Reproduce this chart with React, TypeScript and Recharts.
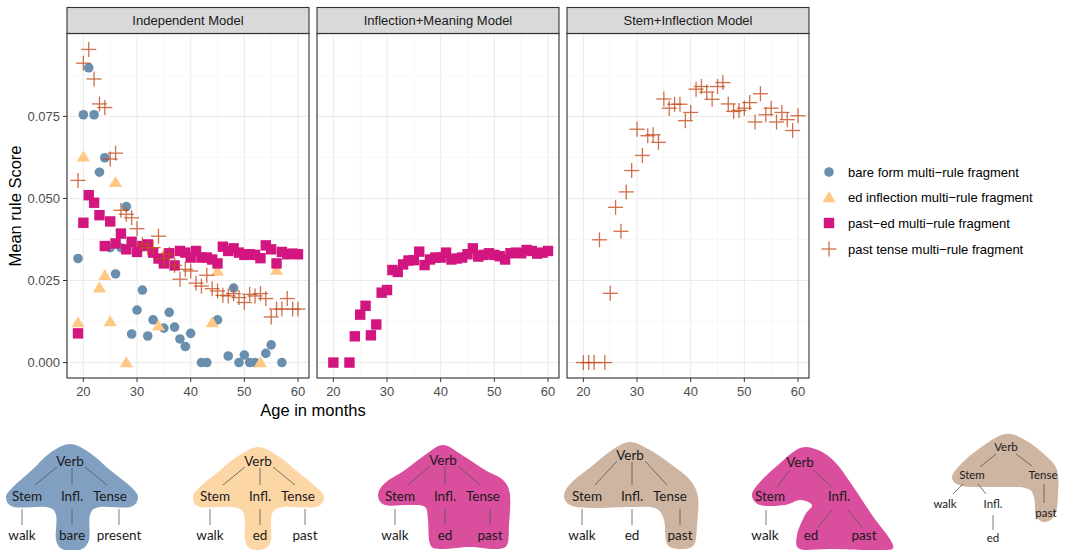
import React from "react"
import { ScatterChart, Scatter, XAxis, YAxis, CartesianGrid } from "recharts"

const FONT = '"Liberation Sans", Arial, Helvetica, sans-serif'
const TREE_FONT = 'Lato, "Open Sans", sans-serif'

const panelTitles = ["Independent Model", "Inflection+Meaning Model", "Stem+Inflection Model"]
const seriesNames = [
  "bare form multi\u2212rule fragment",
  "ed inflection multi\u2212rule fragment",
  "past\u2212ed multi\u2212rule fragment",
  "past tense multi\u2212rule fragment",
]
const ageTicks = [20, 30, 40, 50, 60]
const ageMinor = [25, 35, 45, 55]
const scoreTicks = [0, 0.025, 0.05, 0.075]
const scoreMinor = [0.0125, 0.0375, 0.0625, 0.0875]

// [age in months, mean rule score]
const indepBare = [
  [19, 0.0317], [20, 0.0755], [21, 0.0898], [22, 0.0755], [23, 0.058], [24, 0.0624],
  [25, 0.035], [26, 0.027], [27, 0.035], [28, 0.0475], [29, 0.0087], [30, 0.016],
  [31, 0.0221], [32, 0.0081], [33, 0.013], [35, 0.0105], [36, 0.0153], [37, 0.0108],
  [38, 0.0072], [39, 0.0049], [40, 0.0089], [42, 0], [43, 0], [45, 0.013], [47, 0.002],
  [48, 0.0227], [49, 0], [50, 0.0023], [51, 0], [52, 0], [54, 0.0028], [55, 0.0054], [57, 0],
]
const indepEd = [
  [19, 0.0122], [20, 0.0627], [23, 0.0228], [24, 0.0266], [25, 0.0125], [26, 0.0549],
  [28, 0], [34, 0.0112], [35, 0.033], [44, 0.0122], [45, 0.0279], [53, 0], [56, 0.0282],
]
const indepPastEd = [
  [19, 0.0089], [20, 0.0426], [21, 0.051], [22, 0.0487], [23, 0.0449], [24, 0.0355],
  [25, 0.043], [26, 0.0363], [27, 0.0393], [28, 0.0345], [29, 0.0368], [30, 0.0337],
  [31, 0.0355], [32, 0.036], [33, 0.0335], [34, 0.0317], [35, 0.0302], [36, 0.0333],
  [37, 0.0296], [38, 0.034], [39, 0.0335], [40, 0.032], [41, 0.034], [42, 0.032],
  [43, 0.032], [44, 0.0314], [45, 0.0302], [46, 0.0353], [47, 0.034], [48, 0.0348],
  [49, 0.0335], [50, 0.0328], [51, 0.033], [52, 0.0328], [53, 0.0318], [54, 0.0357],
  [55, 0.0345], [56, 0.0302], [57, 0.0337], [58, 0.033], [59, 0.0332], [60, 0.033],
]
const indepPastTense = [
  [19, 0.0555], [20, 0.0912], [21, 0.0954], [22, 0.0864], [23, 0.0788], [24, 0.0777],
  [25, 0.062], [26, 0.0638], [27, 0.0464], [28, 0.0452], [29, 0.0441], [30, 0.0408],
  [31, 0.036], [32, 0.035], [33, 0.035], [34, 0.0385], [35, 0.0317], [36, 0.033],
  [37, 0.0296], [38, 0.0254], [39, 0.0284], [40, 0.0279], [41, 0.0242], [42, 0.0233],
  [43, 0.0266], [44, 0.0225], [45, 0.0218], [46, 0.0205], [47, 0.0203], [48, 0.021],
  [49, 0.0198], [50, 0.0183], [51, 0.0208], [52, 0.0203], [53, 0.021], [54, 0.0195],
  [55, 0.0139], [56, 0.0163], [57, 0.0163], [58, 0.0195], [59, 0.0163], [60, 0.0163],
]
const inflMeaningPastEd = [
  [20, 0], [23, 0], [24, 0.008], [25, 0.0146], [26, 0.0173], [27, 0.0083], [28, 0.0116],
  [29, 0.0213], [30, 0.0221], [31, 0.0282], [32, 0.0276], [33, 0.0299], [34, 0.0311],
  [35, 0.0312], [36, 0.0338], [37, 0.0297], [38, 0.0314], [39, 0.032], [40, 0.032],
  [41, 0.0335], [42, 0.0314], [43, 0.0317], [44, 0.032], [45, 0.033], [46, 0.0348],
  [47, 0.0323], [48, 0.0328], [49, 0.0333], [50, 0.0328], [51, 0.0324], [52, 0.0314],
  [53, 0.0333], [54, 0.0335], [55, 0.0333], [56, 0.0343], [57, 0.034], [58, 0.0332],
  [59, 0.0335], [60, 0.034],
]
const stemInflPastTense = [
  [20, 0], [21, 0], [22, 0], [23, 0.0374], [24, 0], [25, 0.0211], [26, 0.0473], [27, 0.04],
  [28, 0.052], [29, 0.0585], [30, 0.0711], [31, 0.0631], [32, 0.0691], [33, 0.0694],
  [34, 0.0671], [35, 0.0803], [36, 0.0775], [37, 0.0787], [38, 0.0787], [39, 0.0737],
  [40, 0.0762], [41, 0.0833], [42, 0.0841], [43, 0.0824], [44, 0.0802], [45, 0.0841],
  [46, 0.0853], [47, 0.0788], [48, 0.0765], [49, 0.0768], [50, 0.0775], [51, 0.0792],
  [52, 0.0733], [53, 0.0819], [54, 0.0755], [55, 0.0775], [56, 0.0733], [57, 0.0762],
  [58, 0.074], [59, 0.0707], [60, 0.0752],
]

const toPoints = (rows: number[][]) => rows.map(([age, score]) => ({ age, score }))

const Dot = ({ cx, cy }: any) => <circle cx={cx} cy={cy} r={4.8} fill="#6A8FAE" />
const Tri = ({ cx, cy }: any) => (
  <polygon points={`${cx},${cy - 6.3} ${cx + 6.6},${cy + 4.7} ${cx - 6.6},${cy + 4.7}`} fill="#FFC985" />
)
const Sq = ({ cx, cy }: any) => <rect x={cx - 5.2} y={cy - 5.2} width={10.4} height={10.4} fill="#D2157F" />
const Plus = ({ cx, cy }: any) => (
  <g stroke="#C44D1E" strokeWidth={1.3} opacity={0.8}>
    <line x1={cx - 7.5} x2={cx + 7.5} y1={cy} y2={cy} />
    <line x1={cx} x2={cx} y1={cy - 7.5} y2={cy + 7.5} />
  </g>
)
const shapes = [Dot, Tri, Sq, Plus]

const panels = [
  { title: panelTitles[0], left: 67, series: [[0, indepBare], [1, indepEd], [2, indepPastEd], [3, indepPastTense]] },
  { title: panelTitles[1], left: 317, series: [[2, inflMeaningPastEd]] },
  { title: panelTitles[2], left: 567, series: [[3, stemInflPastTense]] },
]

const PW = 242
const PTOP = 34
const PH = 344

function Panel({ left, series, showY }: any) {
  const yw = showY ? 67 : 0
  const tick = { fill: "#4D4D4D", fontSize: 13, fontFamily: FONT }
  return (
    <div style={{ position: "absolute", left: left - yw, top: 0 }}>
      <ScatterChart width={yw + PW} height={PTOP + PH + 30} margin={{ top: PTOP, right: 0, bottom: 0, left: 0 }}>
        <CartesianGrid stroke="#F2F2F2" strokeWidth={0.6} verticalValues={ageMinor} horizontalValues={scoreMinor} />
        <CartesianGrid stroke="#EBEBEB" strokeWidth={1.1} />
        <XAxis
          type="number"
          dataKey="age"
          domain={[16.95, 62.05]}
          ticks={ageTicks}
          interval={0}
          axisLine={false}
          tickSize={4}
          tickMargin={5}
          tickLine={{ stroke: "#333333" }}
          tick={tick}
          height={30}
        />
        <YAxis
          type="number"
          dataKey="score"
          domain={[-0.0047, 0.1001]}
          ticks={scoreTicks}
          interval={0}
          hide={!showY}
          width={yw}
          axisLine={false}
          tickSize={4}
          tickMargin={3}
          tickLine={{ stroke: "#333333" }}
          tick={tick}
          tickFormatter={(v: number) => v.toFixed(3)}
        />
        {series.map(([k, rows]: any) => (
          <Scatter
            key={k}
            name={seriesNames[k]}
            data={toPoints(rows)}
            shape={shapes[k]}
            isAnimationActive={false}
          />
        ))}
      </ScatterChart>
    </div>
  )
}

// closed smooth outline through the given points (decoration only)
function blob(pts: number[][]) {
  const n = pts.length
  let d = `M${pts[0][0]},${pts[0][1]}`
  for (let i = 0; i < n; i++) {
    const p0 = pts[(i - 1 + n) % n]
    const p1 = pts[i]
    const p2 = pts[(i + 1) % n]
    const p3 = pts[(i + 2) % n]
    const c1x = p1[0] + (p2[0] - p0[0]) / 6
    const c1y = p1[1] + (p2[1] - p0[1]) / 6
    const c2x = p2[0] - (p3[0] - p1[0]) / 6
    const c2y = p2[1] - (p3[1] - p1[1]) / 6
    d += ` C${c1x},${c1y} ${c2x},${c2y} ${p2[0]},${p2[1]}`
  }
  return d + " Z"
}

function StdTree({ cx, verbY, mid, right, rightX, fill, outline }: any) {
  const rowY = 500.5
  const wordY = 540
  const ln = { stroke: "#555", strokeWidth: 0.8 }
  return (
    <g>
      <path d={blob(outline)} fill={fill} />
      <line x1={cx - 13} y1={verbY + 1} x2={cx - 35} y2={485} {...ln} />
      <line x1={cx + 2} y1={verbY + 2} x2={cx + 2} y2={485} {...ln} />
      <line x1={cx + 15} y1={verbY + 1} x2={cx + 37} y2={485} {...ln} />
      <line x1={cx - 48} y1={509} x2={cx - 48} y2={525} {...ln} />
      <line x1={cx + 2} y1={509} x2={cx + 2} y2={525} {...ln} />
      <line x1={rightX} y1={509} x2={rightX} y2={525} {...ln} />
      <g fontFamily={TREE_FONT} fontSize={13.5} fill="#1A1A1A" textAnchor="middle">
        <text x={cx} y={verbY}>Verb</text>
        <text x={cx - 43} y={rowY}>Stem</text>
        <text x={cx + 2} y={rowY}>Infl.</text>
        <text x={cx + 40} y={rowY}>Tense</text>
        <text x={cx - 48} y={wordY}>walk</text>
        <text x={cx + 2} y={wordY}>{mid}</text>
        <text x={rightX} y={wordY}>{right}</text>
      </g>
    </g>
  )
}

function Trees() {
  const ln = { stroke: "#555", strokeWidth: 0.8 }
  return (
    <g>
      <StdTree
        cx={70} verbY={466} mid="bare" right="present" rightX={119} fill="#819FC0"
        outline={[[70, 444], [90, 453], [110, 470], [130, 486], [138, 497], [130, 507], [100, 507], [90, 515], [89, 540], [80, 550], [64, 550], [56, 540], [56, 515], [46, 507], [14, 507], [6, 497], [14, 486], [32, 470], [50, 453]]}
      />
      <StdTree
        cx={258} verbY={466} mid="ed" right="past" rightX={305} fill="#FDD6A6"
        outline={[[258, 447], [278, 456], [298, 472], [316, 487], [324, 497], [316, 507], [284, 507], [272, 514], [271, 540], [264, 549], [251, 549], [245, 540], [244, 514], [232, 507], [200, 507], [193, 497], [200, 487], [218, 472], [238, 456]]}
      />
      <StdTree
        cx={443} verbY={465} mid="ed" right="past" rightX={490} fill="#DA4E9E"
        outline={[[443, 445], [462, 455], [485, 470], [503, 480], [510, 495], [509, 525], [507, 545], [495, 549], [470, 547], [440, 549], [430, 544], [428, 520], [425, 507], [410, 505], [385, 505], [378, 495], [385, 483], [405, 470], [425, 455]]}
      />
      <StdTree
        cx={630} verbY={460} mid="ed" right="past" rightX={680} fill="#CEB5A2"
        outline={[[630, 442], [650, 450], [672, 465], [690, 480], [698, 497], [697, 525], [694, 545], [680, 549], [667, 544], [664, 520], [655, 508], [630, 507], [590, 508], [570, 505], [564, 495], [572, 482], [592, 466], [612, 450]]}
      />
      {/* nested infl tree */}
      <path
        d={blob([[800, 448], [818, 450], [835, 462], [852, 485], [872, 515], [893, 545], [880, 550], [830, 549], [800, 549], [797, 535], [805, 515], [812, 505], [800, 500], [785, 505], [760, 505], [752, 495], [760, 482], [778, 465]])}
        fill="#DA4E9E"
      />
      <line x1={790} y1={470} x2={777} y2={487} {...ln} />
      <line x1={813} y1={470} x2={832} y2={487} {...ln} />
      <line x1={766} y1={510} x2={766} y2={525} {...ln} />
      <line x1={832} y1={510} x2={818} y2={527} {...ln} />
      <line x1={848} y1={510} x2={862} y2={527} {...ln} />
      <g fontFamily={TREE_FONT} fontSize={13.5} fill="#1A1A1A" textAnchor="middle">
        <text x={800} y={467}>Verb</text>
        <text x={770} y={501}>Stem</text>
        <text x={839} y={501}>Infl.</text>
        <text x={765} y={540}>walk</text>
        <text x={811} y={540}>ed</text>
        <text x={864} y={540}>past</text>
      </g>
      {/* stem+infl tree */}
      <path
        d={blob([[1005, 434], [1025, 440], [1045, 455], [1057, 470], [1058, 495], [1055, 515], [1045, 522], [1036, 516], [1034, 497], [1025, 488], [990, 487], [962, 486], [952, 478], [960, 465], [980, 448]])}
        fill="#CEB5A2"
      />
      <line x1={996} y1={454} x2={980} y2={467} {...ln} />
      <line x1={1016} y1={454} x2={1032} y2={466} {...ln} />
      <line x1={963} y1={484} x2={953} y2={494} {...ln} />
      <line x1={978} y1={484} x2={986} y2={494} {...ln} />
      <line x1={993} y1={515} x2={993} y2={530} {...ln} />
      <line x1={1044} y1={484} x2={1044} y2={503} {...ln} />
      <g fontFamily={TREE_FONT} fontSize={11.5} fill="#1A1A1A" textAnchor="middle">
        <text x={1006} y={451}>Verb</text>
        <text x={972} y={479}>Stem</text>
        <text x={1043} y={479}>Tense</text>
        <text x={945} y={508}>walk</text>
        <text x={993} y={508}>Infl.</text>
        <text x={993} y={542}>ed</text>
        <text x={1046} y={517}>past</text>
      </g>
    </g>
  )
}

export default function App() {
  const legendRows = [172, 197.5, 223, 249]
  return (
    <div style={{ position: "absolute", left: 0, top: 0, width: 1069, height: 550, background: "#fff", fontFamily: FONT }}>
      {panels.map((p, i) => (
        <Panel key={p.title} left={p.left} series={p.series} showY={i === 0} />
      ))}
      <svg width={1069} height={550} style={{ position: "absolute", left: 0, top: 0, pointerEvents: "none" }}>
        {panels.map((p) => (
          <g key={p.title}>
            <rect x={p.left} y={7.5} width={PW} height={26} fill="#D9D9D9" stroke="#333333" strokeWidth={1.1} />
            <text x={p.left + PW / 2} y={20.5} textAnchor="middle" dominantBaseline="central" fontSize={13} fill="#1A1A1A" fontFamily={FONT}>
              {p.title}
            </text>
            <rect x={p.left} y={33.5} width={PW} height={PH + 0.5} fill="none" stroke="#333333" strokeWidth={1.1} />
          </g>
        ))}
        <text
          transform="translate(15,206) rotate(-90)"
          textAnchor="middle"
          dominantBaseline="central"
          fontSize={16.5}
          fill="#000"
          fontFamily={FONT}
        >
          Mean rule Score
        </text>
        <text x={313} y={410} textAnchor="middle" dominantBaseline="central" fontSize={16.5} fill="#000" fontFamily={FONT}>
          Age in months
        </text>
        {seriesNames.map((name, k) => {
          const S = shapes[k]
          return (
            <g key={name}>
              <S cx={829} cy={legendRows[k]} />
              <text x={848} y={legendRows[k]} dominantBaseline="central" fontSize={13} fill="#000" fontFamily={FONT}>
                {name}
              </text>
            </g>
          )
        })}
        <Trees />
      </svg>
    </div>
  )
}
